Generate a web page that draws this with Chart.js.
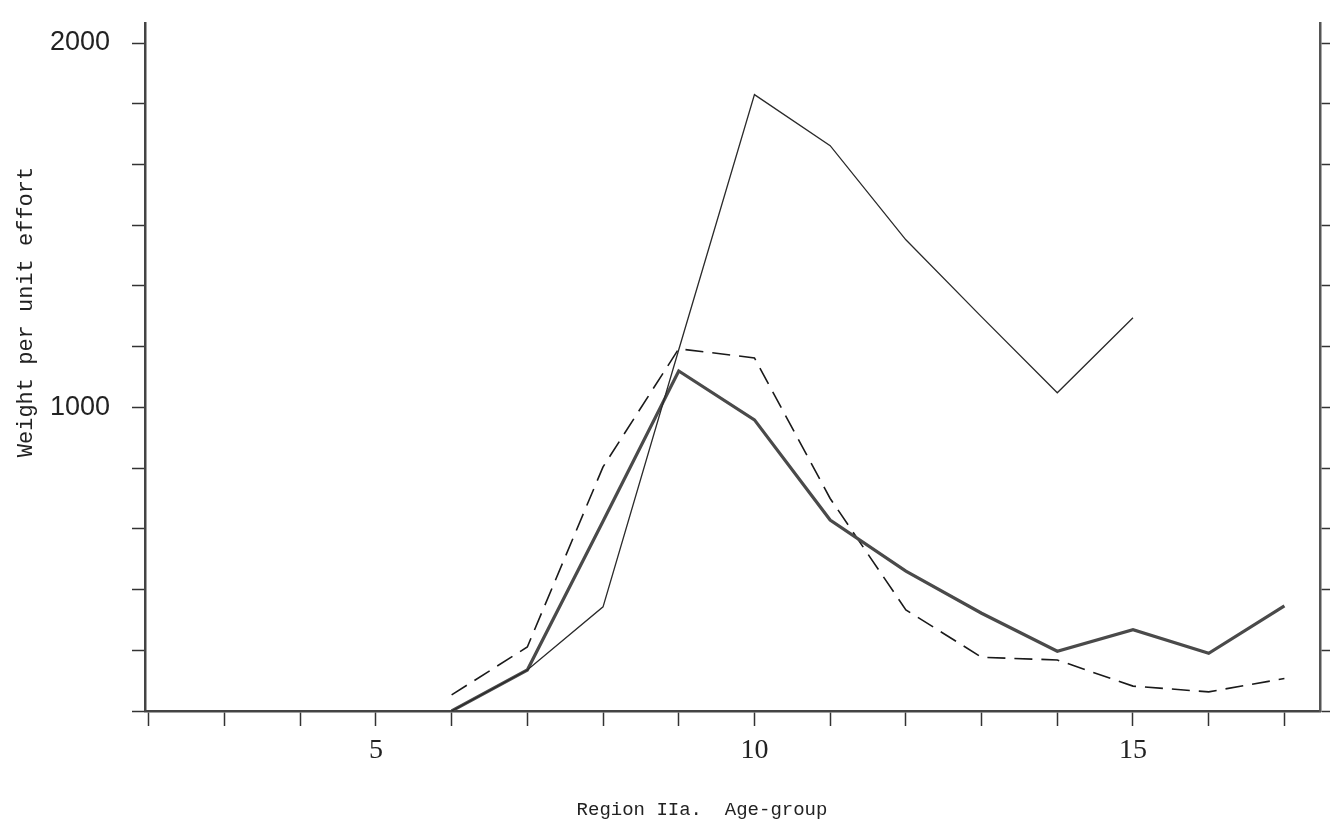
<!DOCTYPE html>
<html>
<head>
<meta charset="utf-8">
<script src="https://cdn.jsdelivr.net/npm/chart.js@4/dist/chart.umd.min.js"></script>
<style>
  html, body { margin: 0; padding: 0; background: #fff; }
  #wrap { width: 1333px; height: 838px; position: relative; }
</style>
</head>
<body>
<div id="wrap"><canvas id="ageChart"></canvas></div>
<script>
// Age-groups and weight per unit effort
const agesThin = [6, 7, 8, 9, 10, 11, 12, 13, 14, 15];
const thinLine = [0, 135, 343, 1190, 2030, 1862, 1552, 1298, 1048, 1295];

const ages = [6, 7, 8, 9, 10, 11, 12, 13, 14, 15, 16, 17];
const heavyLine = [0, 135, 625, 1120, 959, 629, 461, 322, 197, 268, 190, 346];
const dashedLine = [53, 211, 804, 1193, 1163, 700, 333, 177, 168, 82, 63, 107];

// axis ticks (labels as printed on the original)
const xTicks = [2, 3, 4, 5, 6, 7, 8, 9, 10, 11, 12, 13, 14, 15, 16, 17];
const xTickLabels = { 5: '5', 10: '10', 15: '15' };
const yTicks = [0, 200, 400, 600, 800, 1000, 1200, 1400, 1600, 1800, 2000, 2200];
const yTickLabels = { 1000: '1000', 2200: '2000' };

const xTitle = 'Region IIa.  Age-group';
const yTitle = 'Weight per unit effort';

const pts = (xs, ys) => xs.map((x, i) => ({ x: x, y: ys[i] }));

// axis titles placed like the typed captions on the sheet
const captions = {
    id: 'captions',
    afterDraw(chart) {
        const ctx = chart.ctx;
        ctx.save();
        ctx.fillStyle = '#222';
        ctx.textAlign = 'center';
        ctx.textBaseline = 'middle';
        ctx.font = '19px "Liberation Mono", monospace';
        ctx.fillText(xTitle, 702, 810);
        ctx.translate(26, 312);
        ctx.rotate(-Math.PI / 2);
        ctx.font = '22px "Liberation Mono", monospace';
        ctx.fillText(yTitle, 0, 0);
        ctx.restore();
    }
};

new Chart(document.getElementById('ageChart'), {
    type: 'line',
    data: {
        datasets: [
            {
                label: 'thin',
                data: pts(agesThin, thinLine),
                borderColor: '#2a2a2a',
                borderWidth: 1.3,
                pointRadius: 0,
                tension: 0
            },
            {
                label: 'heavy',
                data: pts(ages, heavyLine),
                borderColor: '#4a4a4a',
                borderWidth: 3.2,
                pointRadius: 0,
                tension: 0
            },
            {
                label: 'dashed',
                data: pts(ages, dashedLine),
                borderColor: '#1a1a1a',
                borderWidth: 1.6,
                borderDash: [18, 9],
                pointRadius: 0,
                tension: 0
            }
        ]
    },
    options: {
        responsive: true,
        maintainAspectRatio: false,
        animation: false,
        layout: { padding: { top: 23, left: 0, right: 0, bottom: 0 } },
        plugins: {
            legend: { display: false },
            tooltip: { enabled: false }
        },
        scales: {
            x: {
                type: 'linear',
                min: 1.95,
                max: 17.47,
                afterBuildTicks: s => { s.ticks = xTicks.map(v => ({ value: v })); },
                afterFit: s => { s.height = 127; s.paddingLeft = 0; s.paddingRight = 0; },
                border: { display: true, color: '#444', width: 2.5 },
                grid: { drawOnChartArea: false, drawTicks: true, tickLength: 15, color: '#333', tickWidth: 1.5 },
                ticks: {
                    autoSkip: false,
                    maxRotation: 0,
                    padding: 8,
                    color: '#222',
                    font: { family: '"Liberation Serif", serif', size: 28 },
                    callback: v => xTickLabels[v] || ''
                }
            },
            y: {
                type: 'linear',
                position: 'left',
                min: 0,
                max: 2266,
                afterBuildTicks: s => { s.ticks = yTicks.map(v => ({ value: v })); },
                afterFit: s => { s.width = 145; s.paddingTop = 0; s.paddingBottom = 0; },
                border: { display: true, color: '#444', width: 2.5 },
                grid: { drawOnChartArea: false, drawTicks: true, tickLength: 13, color: '#333', tickWidth: 1.5 },
                ticks: {
                    autoSkip: false,
                    padding: 22,
                    color: '#222',
                    font: { family: '"Liberation Sans", sans-serif', size: 27 },
                    callback: v => yTickLabels[v] || ''
                }
            },
            yRight: {
                type: 'linear',
                position: 'right',
                min: 0,
                max: 2266,
                afterBuildTicks: s => { s.ticks = yTicks.map(v => ({ value: v })); },
                afterFit: s => { s.width = 13; s.paddingTop = 0; s.paddingBottom = 0; },
                border: { display: true, color: '#555', width: 2.5 },
                grid: { drawOnChartArea: false, drawTicks: true, tickLength: 10, color: '#333', tickWidth: 1.5 },
                ticks: { display: false }
            }
        }
    },
    plugins: [captions]
});
</script>
</body>
</html>
